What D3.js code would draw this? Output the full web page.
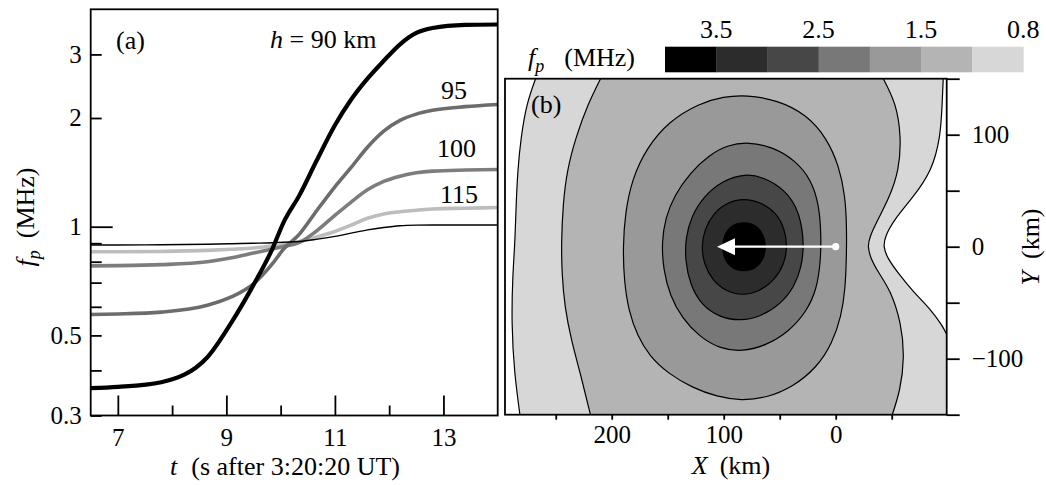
<!DOCTYPE html>
<html>
<head>
<meta charset="utf-8">
<script src="https://cdn.jsdelivr.net/npm/d3@7"></script>
<style>
  html, body { margin: 0; padding: 0; background: #fff; }
  svg { display: block; }
  svg text { font-family: "Liberation Serif", "DejaVu Serif", serif; }
</style>
</head>
<body>
<svg id="chart" width="1046" height="485" font-family="Liberation Serif, DejaVu Serif, serif"></svg>
<script>
// ---------- Panel (a): plasma frequency f_p (MHz) at fixed heights vs time ----------
const times   = [6.5, 7.0, 7.8, 8.65, 9.1, 9.5, 9.85, 10.05, 10.35, 10.65, 11.0, 11.3, 11.6, 11.9, 12.2, 12.5, 12.8, 13.4, 14.0];
const fpH90   = [0.357, 0.360, 0.371, 0.435, 0.545, 0.690, 0.870, 1.025, 1.225, 1.510, 1.910, 2.250, 2.570, 2.880, 3.200, 3.440, 3.550, 3.620, 3.630];
const fpH95   = [0.571, 0.573, 0.580, 0.606, 0.640, 0.695, 0.790, 0.865, 0.955, 1.100, 1.290, 1.460, 1.660, 1.840, 1.970, 2.050, 2.100, 2.150, 2.180];
const fpH100  = [0.779, 0.780, 0.785, 0.800, 0.820, 0.845, 0.868, 0.882, 0.905, 0.970, 1.075, 1.170, 1.265, 1.335, 1.380, 1.410, 1.425, 1.435, 1.440];
const fpH115  = [0.852, 0.852, 0.854, 0.860, 0.866, 0.873, 0.885, 0.893, 0.910, 0.935, 0.970, 1.010, 1.055, 1.085, 1.100, 1.110, 1.120, 1.125, 1.130];
const fpThin  = [0.890, 0.890, 0.891, 0.894, 0.897, 0.900, 0.903, 0.906, 0.910, 0.922, 0.940, 0.960, 0.980, 0.995, 1.006, 1.010, 1.011, 1.011, 1.011];
const heightLabels = ["90", "95", "100", "115"];

const tTicks  = [7, 9, 11, 13];
const tMinor  = [8, 10, 12];
const fTicks  = [0.3, 0.5, 1, 2, 3];
const fMinor  = [0.4, 0.6, 0.7, 0.8, 0.9];

// ---------- Panel (b): f_p map, contour lines as [X km, Y km] ----------
const levels = [0.8, 1.0, 1.5, 2.0, 2.5, 3.0, 3.5];
const colorbarLabels = ["3.5", "2.5", "1.5", "0.8"];

// open contours (top edge to bottom edge / right edge)
const c08Left  = [[268,150],[276,128],[281,98],[284,68],[285.5,34],[286.5,2],[288.5,-26],[289.5,-68],[287,-113],[282,-150]];
const c08Right = [[-96,150],[-95,126],[-93.5,98],[-86,68],[-69,44],[-52,24],[-44,9],[-42.5,0],[-46,-10],[-56,-24],[-69,-40],[-84,-55],[-95,-70],[-100,-80]];
const c10Left  = [[210,150],[221,128],[232,98],[240,68],[243.5,38],[245,4],[244.5,-24],[242,-54],[236,-84],[228,-113],[219,-150]];
const c10Right = [[-42.5,150],[-54,128],[-58.5,98],[-56.5,68],[-48,44],[-37,23],[-30,8],[-28.6,0],[-31,-10],[-38,-23],[-49,-39],[-58.5,-68],[-61.5,-99],[-57.5,-129],[-50.5,-150]];
// closed contours
const c15 = [[80,135.5],[52,131],[26,118],[8,97],[-3,72],[-8.5,45],[-9.8,18],[-9.6,-10],[-8.5,-38],[-5,-62],[3,-86],[17,-108],[38,-125],[62,-135],[84,-137.5],[106,-134],[128,-126],[150,-113],[166,-98],[177,-80],[185,-57],[189,-30],[190,0],[188,30],[182,60],[169,88],[149,112],[122,128],[100,134]];
const c20 = [[78,93.5],[56,89],[36,77],[22,60],[15,38],[13,12],[13.5,-14],[17,-38],[26,-58],[42,-76],[62,-88],[83,-93.8],[104,-91],[122,-80],[137,-64],[148,-44],[154,-20],[155.4,4],[152,26],[144,46],[130,66],[113,82],[96,91]];
const c25 = [[81,65.5],[63,61.5],[46,51],[35,36],[30,18],[28.5,0],[30.5,-18],[37,-36],[49,-51],[66,-62],[85,-66.5],[104,-63],[120,-52],[130,-34],[134.5,-12],[134,8],[129,27],[118,45],[101,59]];
const c30 = [[82.5,43.2],[66,39.5],[53,30],[45.5,16],[43.2,0],[46,-16],[55,-30],[68,-40],[83,-43.7],[98,-40],[110,-30],[117.5,-16],[120,0],[117,16],[109,30],[97,39.5]];
const c35 = [[82,22.3],[71,19.5],[64.5,11],[62,0],[64.5,-11],[71,-19.5],[82,-22.3],[93,-19.5],[99.5,-11],[101.5,0],[99.5,11],[93,19.5]];

const arrowStart = [0, 0];
const arrowTip   = [106, 0];

const xKmTicks = [200, 100, 0];
const xKmMinor = [250, 150, 50, -50];
const yKmTicks = [100, 0, -100];
const yKmMinor = [150, 50, -50, -150];

// ---------- drawing ----------
const SERIF = "Liberation Serif, DejaVu Serif, serif";
const svg = d3.select("#chart");
svg.append("rect").attr("width", 1046).attr("height", 485).attr("fill", "#fff");

const FONT = 26, TICKFONT = 25, AXW = 1.8;

function styleAxis(g) {
  g.select(".domain").remove();
  g.attr("font-family", SERIF).attr("font-size", TICKFONT);
  g.selectAll(".tick line").attr("stroke", "#000").attr("stroke-width", AXW);
  g.selectAll(".tick text").attr("fill", "#000").attr("font-family", SERIF);
}
function label(parent, x, y) {
  return parent.append("text").attr("x", x).attr("y", y).attr("font-size", FONT).attr("font-family", SERIF);
}

// Panel (a)
const xA = d3.scaleLinear().domain([6.5, 14]).range([90.7, 497.7]);
const yA = d3.scaleLog().domain([0.3, 4.0]).range([415.5, 9.3]);

const lineA = d3.line()
  .x((d, i) => xA(times[i]))
  .y(d => yA(d))
  .curve(d3.curveMonotoneX);

const seriesA = [
  { values: fpH115, color: "#bdbdbd", width: 3.6 },
  { values: fpH100, color: "#7d7d7d", width: 3.6 },
  { values: fpH95,  color: "#6c6c6c", width: 3.6 },
  { values: fpThin, color: "#000000", width: 1.4 },
  { values: fpH90,  color: "#000000", width: 4.2 }
];
const gA = svg.append("g");
gA.selectAll("path.series").data(seriesA).join("path")
  .attr("class", "series")
  .attr("d", d => lineA(d.values))
  .attr("fill", "none")
  .attr("stroke", d => d.color)
  .attr("stroke-width", d => d.width)
  .attr("stroke-linejoin", "round");

gA.append("g").attr("transform", `translate(${xA.range()[0]},0)`)
  .call(d3.axisLeft(yA).tickValues(fTicks).tickSize(-11).tickPadding(9).tickFormat(d3.format("~g")))
  .call(styleAxis)
  .call(g => g.selectAll(".tick line").filter(d => d === 1).attr("x2", 22));
gA.append("g").attr("transform", `translate(${xA.range()[0]},0)`)
  .call(d3.axisLeft(yA).tickValues(fMinor).tickSize(-11).tickFormat(""))
  .call(styleAxis);
gA.append("g").attr("transform", `translate(0,${yA.range()[0]})`)
  .call(d3.axisBottom(xA).tickValues(tTicks).tickSize(-20).tickPadding(13).tickFormat(d3.format("d")))
  .call(styleAxis);
gA.append("g").attr("transform", `translate(0,${yA.range()[0]})`)
  .call(d3.axisBottom(xA).tickValues(tMinor).tickSize(-10).tickFormat(""))
  .call(styleAxis);

gA.append("rect")
  .attr("x", xA.range()[0]).attr("y", yA.range()[1])
  .attr("width", xA.range()[1] - xA.range()[0]).attr("height", yA.range()[0] - yA.range()[1])
  .attr("fill", "none").attr("stroke", "#000").attr("stroke-width", AXW);

// panel (a) annotations
label(gA, 116, 49).text("(a)");
const hLab = label(gA, 270, 48);
hLab.append("tspan").attr("font-style", "italic").text("h");
hLab.append("tspan").text(` = ${heightLabels[0]} km`);
const curveLabelPos = [null, [441, 99], [437, 157], [440, 203]];
heightLabels.slice(1).forEach((lab, i) => {
  label(gA, curveLabelPos[i + 1][0], curveLabelPos[i + 1][1]).text(lab);
});

const xTitleA = label(gA, 285, 475).attr("text-anchor", "middle");
xTitleA.append("tspan").attr("font-style", "italic").text("t");
xTitleA.append("tspan").attr("dx", 14).text("(s after 3:20:20 UT)");

const yTitleA = label(gA, 0, 0).attr("transform", "translate(34,217) rotate(-90)").attr("text-anchor", "middle");
yTitleA.append("tspan").attr("font-style", "italic").text("f");
yTitleA.append("tspan").attr("font-style", "italic").attr("font-size", 18).attr("dy", 6).text("p");
yTitleA.append("tspan").attr("dy", -6).attr("dx", 12).text("(MHz)");

// Panel (b)
const xB = d3.scaleLinear().domain([295.3, -99.1]).range([505, 946.7]);
const yB = d3.scaleLinear().domain([-150, 150]).range([414.7, 78.7]);
const bx0 = xB.range()[0], bx1 = xB.range()[1], byTop = yB.range()[1], byBot = yB.range()[0];

const fillColors = ["#d7d7d7", "#b4b4b4", "#999999", "#787878", "#474747", "#2c2c2c", "#000000"];

const gB = svg.append("g");
gB.append("clipPath").attr("id", "clipB").append("rect")
  .attr("x", bx0).attr("y", byTop).attr("width", bx1 - bx0).attr("height", byBot - byTop);

const openCurve = d3.line().x(d => xB(d[0])).y(d => yB(d[1])).curve(d3.curveBasis);
const loopCurve = d3.line().x(d => xB(d[0])).y(d => yB(d[1])).curve(d3.curveBasisClosed);

// carry an open contour past each end so it leaves the frame cleanly
function extend(pts) {
  const n = pts.length, a = pts[0], b = pts[1], z = pts[n - 1], y = pts[n - 2];
  return [[3 * a[0] - 2 * b[0], 3 * a[1] - 2 * b[1]], [2 * a[0] - b[0], 2 * a[1] - b[1]], ...pts,
          [2 * z[0] - y[0], 2 * z[1] - y[1]], [3 * z[0] - 2 * y[0], 3 * z[1] - 2 * y[1]]];
}
// region between a left contour (top->bottom) and a right contour (top->bottom)
function bandPath(left, right) {
  const a = openCurve(extend(left));
  const b = openCurve(extend(right).reverse()).replace(/^M/, "L");
  return a + `L${bx1 + 60},${byBot + 60}` + b + "Z";
}

const plot = gB.append("g").attr("clip-path", "url(#clipB)");
plot.append("rect").attr("x", bx0).attr("y", byTop).attr("width", bx1 - bx0).attr("height", byBot - byTop).attr("fill", "#fff");
plot.append("path").attr("d", bandPath(c08Left, c08Right)).attr("fill", fillColors[0]);
plot.append("path").attr("d", bandPath(c10Left, c10Right)).attr("fill", fillColors[1]);
const loops = [c15, c20, c25, c30, c35];
loops.forEach((pts, i) => {
  plot.append("path").attr("d", loopCurve(pts)).attr("fill", fillColors[i + 2]);
});
[c08Left, c08Right, c10Left, c10Right].forEach(pts => {
  plot.append("path").attr("d", openCurve(extend(pts))).attr("fill", "none").attr("stroke", "#000").attr("stroke-width", 1.2);
});
loops.forEach(pts => {
  plot.append("path").attr("d", loopCurve(pts)).attr("fill", "none").attr("stroke", "#000").attr("stroke-width", 1.2);
});

// motion arrow
const ax = xB(arrowStart[0]), ay = yB(arrowStart[1]), tx = xB(arrowTip[0]), ty = yB(arrowTip[1]);
plot.append("line").attr("x1", ax).attr("y1", ay).attr("x2", tx + 16).attr("y2", ty)
  .attr("stroke", "#fff").attr("stroke-width", 2.2);
plot.append("path").attr("d", `M${tx},${ty}L${tx + 18},${ty - 8.5}L${tx + 18},${ty + 8.5}Z`).attr("fill", "#fff");
plot.append("circle").attr("cx", ax).attr("cy", ay).attr("r", 3.6).attr("fill", "#fff");

label(gB, 531, 113).text("(b)");

// axes of panel (b)
gB.append("g").attr("transform", `translate(${bx1},0)`)
  .call(d3.axisRight(yB).tickValues(yKmTicks).tickSize(13).tickPadding(12).tickFormat(d3.format("d")))
  .call(styleAxis);
gB.append("g").attr("transform", `translate(${bx1},0)`)
  .call(d3.axisRight(yB).tickValues(yKmMinor).tickSize(13).tickFormat(""))
  .call(styleAxis);
gB.append("g").attr("transform", `translate(0,${byBot})`)
  .call(d3.axisBottom(xB).tickValues(xKmTicks).tickSize(5).tickPadding(6).tickFormat(d3.format("d")))
  .call(styleAxis);
gB.append("g").attr("transform", `translate(0,${byBot})`)
  .call(d3.axisBottom(xB).tickValues(xKmMinor).tickSize(5).tickFormat(""))
  .call(styleAxis);

gB.append("rect").attr("x", bx0).attr("y", byTop).attr("width", bx1 - bx0).attr("height", byBot - byTop)
  .attr("fill", "none").attr("stroke", "#000").attr("stroke-width", AXW);

const xTitleB = label(gB, 731, 474).attr("text-anchor", "middle");
xTitleB.append("tspan").attr("font-style", "italic").text("X");
xTitleB.append("tspan").attr("dx", 12).text("(km)");

const yTitleB = label(gB, 0, 0).attr("transform", "translate(1039,247) rotate(-90)").attr("text-anchor", "middle");
yTitleB.append("tspan").attr("font-style", "italic").text("Y");
yTitleB.append("tspan").attr("dx", 12).text("(km)");

// colour bar
const levelsDesc = levels.slice().reverse();
const cbX = d3.scaleLinear().domain([0, levels.length]).range([665, 1023.3]);
const cbY = 46.7, cbH = 25.6;
const gC = svg.append("g");
gC.selectAll("rect").data(levelsDesc).join("rect")
  .attr("x", (d, i) => cbX(i)).attr("y", cbY)
  .attr("width", (d, i) => cbX(i + 1) - cbX(i) + 0.4).attr("height", cbH)
  .attr("fill", (d, i) => fillColors[levels.length - 1 - i]);
gC.selectAll("text.cbl").data(colorbarLabels).join("text")
  .attr("class", "cbl")
  .attr("x", d => cbX(levelsDesc.indexOf(+d) + 1))
  .attr("y", 38)
  .attr("text-anchor", "middle")
  .attr("font-size", FONT)
  .attr("font-family", SERIF)
  .text(d => d);
const cbTitle = label(gC, 528, 66);
cbTitle.append("tspan").attr("font-style", "italic").text("f");
cbTitle.append("tspan").attr("font-style", "italic").attr("font-size", 18).attr("dy", 6).text("p");
cbTitle.append("tspan").attr("dy", -6).attr("dx", 20).text("(MHz)");
</script>
</body>
</html>
